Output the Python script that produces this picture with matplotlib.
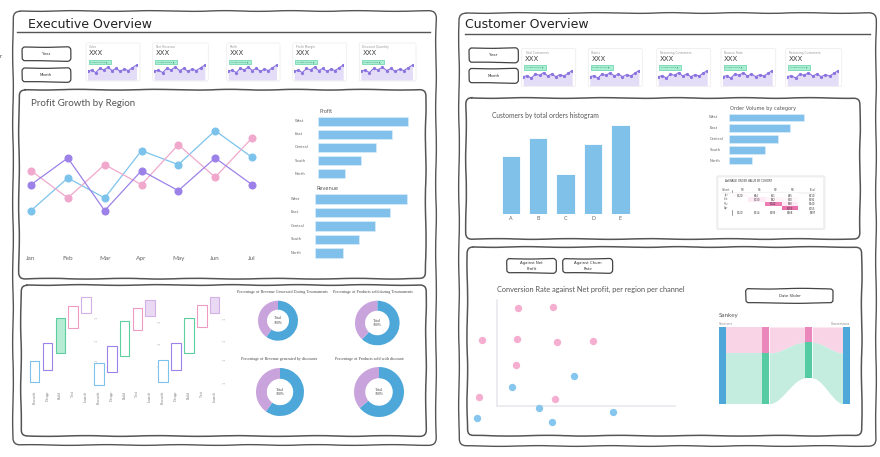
import numpy as np
import matplotlib.pyplot as plt
from matplotlib.patches import FancyBboxPatch, Rectangle
from matplotlib.colors import LinearSegmentedColormap

W, H = 880, 457

# ---------------- data ----------------
months = ['Jan', 'Feb', 'Mar', 'Apr', 'May', 'Jun', 'Jul']
growth_pink = [15.2, 7.0, 17.0, 11.0, 23.0, 13.2, 25.0]
growth_purple = [11.0, 19.0, 3.2, 15.2, 9.2, 19.0, 11.0]
growth_blue = [3.2, 13.0, 7.0, 21.2, 17.0, 27.2, 19.2]

regions = ['West', 'East', 'Central', 'South', 'North']
profit = [90, 74, 58, 43, 27]
revenue = [92, 75, 60, 44, 28]
order_volume = [75, 61, 49, 36, 23]

spark = [10, 13, 6, 18, 14, 22, 12, 18, 10, 16, 12, 20, 28]
exec_kpis = ['Sales', 'Net Revenue', 'Profit', 'Profit Margin', 'Discount Quantity']
cust_kpis = ['Total Customers', 'Orders', 'Returning Customers', 'Bounce Rate', 'Returning Customers']

phases = ['Research', 'Design', 'Build', 'Test', 'Launch'] * 3
phase_low = [18, 30, 47, 72, 87, 15, 28, 44, 70, 84, 18, 30, 47, 73, 87]
phase_high = [39, 57, 82, 94, 103, 37, 54, 79, 92, 100, 40, 57, 82, 95, 103]
phase_filled = [False, False, True, False, False,
                False, False, False, False, True,
                False, False, False, False, True]

donut_titles = ['Percentage of Revenue Generated During Tournaments',
                'Percentage of Products sold during Tournaments',
                'Percentage of Revenue generated by discounts',
                'Percentage of Products sold with discount']
donut_share = [60, 62, 60, 64]

hist_bins = ['A', 'B', 'C', 'D', 'E']
hist_counts = [58, 76, 40, 70, 89]

cohort_cols = ['Cohort', 'M0', 'M1', 'M2', 'M3', 'Total']
cohort_rows = ['Jan', 'Feb', 'Mar', 'Apr']
cohort_shade = [[0.08, 0, 0, 0],
                [0, 0.30, 0.15, 0.12],
                [0, 0, 0.85, 0.30],
                [0, 0, 0, 0.90]]
cohort_vals = [[120, 84, 61, 45], [0, 130, 92, 70], [0, 0, 142, 98], [0, 0, 0, 155]]

pink_x = [12.1, 31.7, -8.1, 11.6, 34.0, 53.8, 10.7, -9.8, 32.5]
pink_y = [92.5, 93.4, 62.6, 63.8, 60.4, 61.3, 38.7, 8.5, 6.6]
blue_x = [43.5, 8.7, 23.9, -10.9, 30.8, 65.4]
blue_y = [28.3, 18.5, -1.9, -11.3, -14.5, -5.1]

sankey_mid1 = [34, 66]
sankey_mid2 = [20, 46.5]
sankey_end = [34, 66]

# ---------------- colours ----------------
PINK = '#f0a8cc'
PURPLE = '#9c82e8'
BLUE = '#7cc3ec'
BAR = '#80c0ea'
GREEN = '#5ccf9f'
LILAC = '#d3b0e6'
DBLUE = '#4ea7d9'
DLILAC = '#c9a3dc'

fig = plt.figure(figsize=(W / 100, H / 100), dpi=100)
bg = fig.add_axes([0, 0, 1, 1])
bg.set_xlim(0, W)
bg.set_ylim(H, 0)
bg.axis('off')


def box_axes(x0, y0, x1, y1):
    ax = fig.add_axes([x0 / W, 1 - y1 / H, (x1 - x0) / W, (y1 - y0) / H])
    ax.patch.set_alpha(0)
    return ax


def frame(x0, y0, x1, y1, ec='#555555', lw=1.0, r=5, fc='none', sketch=True, z=1):
    p = FancyBboxPatch((x0, y0), x1 - x0, y1 - y0,
                       boxstyle='round,pad=0,rounding_size=%g' % r,
                       ec=ec, fc=fc, lw=lw, zorder=z)
    if sketch:
        p.set_sketch_params(scale=0.35, length=90, randomness=3)
    bg.add_patch(p)


def button(x0, y0, x1, y1, label):
    frame(x0, y0, x1, y1, ec='#444444', lw=0.9, r=3)
    bg.text((x0 + x1) / 2, (y0 + y1) / 2, label, fontsize=2.8, ha='center',
            va='center', color='#333333', linespacing=1.6)


def kpi_card(x0, y0, x1, y1, title):
    frame(x0, y0, x1, y1, ec='#eeeeee', lw=0.6, r=1.5, fc='white', sketch=False)
    bg.text(x0 + 3, y0 + 4.4, title, fontsize=2.2, color='#999999', va='center')
    bg.text(x0 + 3, y0 + 10.2, 'XXX', fontsize=5, color='#444444', va='center')
    bg.add_patch(Rectangle((x0 + 2.5, y0 + 16.5), 22, 4.6, fc='#aaeed3',
                           ec='#62d2a8', lw=0.5))
    bg.text(x0 + 4, y0 + 18.8, 'vs last period ▲', fontsize=1.6, color='#2f8f6a',
            va='center')
    ax = box_axes(x0 + 1.5, y0 + 18.7, x1 - 3.5, y1 - 1)
    xs = np.arange(len(spark))
    ax.fill_between(xs, spark, -16, color='#e4ddf7', lw=0)
    ax.plot(xs, spark, color='#8b73e0', lw=0.8, marker='o', ms=1.3)
    ax.set_xlim(0, len(spark) - 1)
    ax.set_ylim(-16, 38)
    ax.axis('off')


# ---------------- outer frames ----------------
frame(13, 11, 436, 445, ec='#555555', lw=1.0, r=7)
frame(459, 13, 876, 446, ec='#555555', lw=1.0, r=7)
bg.text(28, 25, 'Executive Overview', fontsize=9, color='#222222', va='center')
bg.text(465, 25, 'Customer Overview', fontsize=9, color='#222222', va='center')
bg.plot([17, 430], [32.3, 32.3], color='#555555', lw=1.0)
bg.plot([465, 870], [34, 34], color='#555555', lw=1.0)
bg.text(0, 57, 'r', fontsize=3.5, color='#333333', va='center')

# ---------------- header filters + KPI cards ----------------
button(22, 47, 70.5, 61, 'Year')
button(22, 68, 70.5, 82, 'Month')
button(469, 48, 518, 62.5, 'Year')
button(469, 68.5, 518, 83, 'Month')

for x0, x1, t in zip([86, 152.7, 226.7, 292.7, 359.3],
                     [140, 208.3, 280, 346.7, 416], exec_kpis):
    kpi_card(x0, 43, x1, 81, t)
for x0, x1, t in zip([521.7, 588.3, 656.7, 721, 785.7],
                     [575.7, 642.3, 710.7, 775.7, 841.7], cust_kpis):
    kpi_card(x0, 48.5, x1, 86.5, t)

# ---------------- Profit growth panel ----------------
frame(19, 89.7, 425.7, 278.7, ec='#555555', lw=1.1, r=6)
bg.text(31, 104, 'Profit Growth by Region', fontsize=7, family='Lato',
        color='#555555', va='center')

lx = box_axes(25, 121.3, 258, 252)
xs = np.arange(len(months))
for ys, c in [(growth_blue, BLUE), (growth_pink, PINK), (growth_purple, PURPLE)]:
    lx.plot(xs, ys, color=c, lw=0.9, marker='o', ms=4.8, mec=c, clip_on=False)
lx.set_xlim(-0.163, 6.163)
lx.set_ylim(-9.2, 30)
lx.set_xticks(xs)
lx.set_xticklabels(months, fontsize=4.6, color='#666666', family='Lato')
lx.set_yticks([])
lx.tick_params(axis='x', length=0, pad=3)
for s in lx.spines.values():
    s.set_visible(False)


def hbars(box, vals, title, label_x, title_y):
    ax = box_axes(*box)
    ax.barh(range(len(vals)), vals, height=0.68, color=BAR, ec='#d8ecf9', lw=0.5)
    ax.set_xlim(0, box[2] - box[0])
    ax.set_ylim(len(vals) - 0.5, -0.5)
    for i, r in enumerate(regions):
        ax.text(label_x, i, r, fontsize=2.7, color='#666666', va='center',
                clip_on=False)
    ax.text(1, title_y, title, fontsize=3.6, color='#555555', va='center',
            clip_on=False)
    ax.axis('off')
    return ax


hbars((318, 114.4, 410, 180.6), profit, 'Profit', -23, -0.75)
hbars((315, 192.2, 410, 259.7), revenue, 'Revenue', -24, -0.74)

# ---------------- phases + donuts panel ----------------
frame(21, 285, 426, 436, ec='#555555', lw=1.1, r=6)

fx = box_axes(28, 290, 222, 388)
px_ = np.arange(len(phases))
cols = [BLUE, PURPLE, GREEN, '#f09ac4', LILAC] * 3
fills = {BLUE: '#cfe9f8', PURPLE: '#ddd5f7', GREEN: '#b5ecd3',
         '#f09ac4': '#fbdcea', LILAC: '#ead9f3'}
for i in px_:
    fc = fills[cols[i]] if phase_filled[i] else 'white'
    fx.bar(i, phase_high[i] - phase_low[i], bottom=phase_low[i], width=0.75,
           fc=fc, ec=cols[i], lw=0.8)
fx.set_xlim(-0.52, 14.58)
fx.set_ylim(12, 110)
fx.set_xticks(px_)
fx.set_xticklabels(phases, rotation=90, fontsize=2.6, color='#777777',
                   family='Liberation Serif')
fx.tick_params(axis='x', length=0, pad=2)
fx.set_yticks([])
for s in fx.spines.values():
    s.set_visible(False)
for x, ys in [(97, [318, 341, 361]), (160, [322, 344, 366]),
              (225, [319, 341, 360, 383])]:
    for y in ys:
        bg.text(x, y, '1', fontsize=2.4, color='#aaaaaa', ha='center',
                va='center', rotation=90)

donut_pos = [(278, 320.7, 20), (377.3, 323, 22.3), (280, 392, 24), (379, 392, 25)]
title_pos = [(282, 292), (373, 292), (279, 359), (369, 359)]
for (cx, cy, r), (tx, ty), t, share in zip(donut_pos, title_pos, donut_titles,
                                           donut_share):
    bg.text(tx, ty, t, fontsize=3.0, color='#444444', ha='center', va='center',
            family='Liberation Serif')
    ax = box_axes(cx - r, cy - r, cx + r, cy + r)
    ax.pie([share, 100 - share], colors=[DBLUE, DLILAC], startangle=90,
           counterclock=False, radius=1, wedgeprops=dict(width=0.45, lw=0))
    ax.text(0, 0, 'Total\n100%', fontsize=2.8, ha='center', va='center',
            color='#444444', family='Liberation Serif')
    ax.set_xlim(-1, 1)
    ax.set_ylim(-1, 1)
    ax.set_aspect('equal')

# ---------------- histogram panel ----------------
frame(466, 98, 860, 239, ec='#555555', lw=1.1, r=6)
bg.text(491.7, 115.7, 'Customers by total orders histogram', fontsize=4.8,
        family='Lato', color='#555555', va='center')
hx = box_axes(497, 110, 634, 213.7)
hx.bar(range(len(hist_bins)), hist_counts, width=0.67, color='#80c1ea',
       ec='white', lw=0.6)
hx.set_xlim(-0.504, 4.496)
hx.set_ylim(0, 103.7)
hx.set_xticks(range(len(hist_bins)))
hx.set_xticklabels(hist_bins, fontsize=3.8, color='#666666', family='Lato')
hx.tick_params(axis='x', length=0, pad=1.8)
hx.set_yticks([])
for s in hx.spines.values():
    s.set_visible(False)

hbars((728.7, 111.9, 806, 166.1), order_volume, 'Order Volume by category', -19.4, -0.8)

# cohort table
frame(717.3, 176.3, 824.3, 229, ec='#eeeeee', lw=1.6, r=1, fc='white', sketch=False)
bg.text(725, 181.3, 'AVERAGE ORDER VALUE BY COHORT', fontsize=1.9, color='#333333',
        va='center')
tx = box_axes(731.7, 192.8, 798.3, 210.5)
cmap = LinearSegmentedColormap.from_list('pk', ['#ffffff', '#fbdcec', '#e4559b'])
tx.pcolormesh(np.array(cohort_shade), cmap=cmap, vmin=0, vmax=1)
tx.set_xlim(0, 4)
tx.set_ylim(4, 0)
tx.axis('off')
for r in range(4):
    tx.text(-0.35, r + 0.5, cohort_rows[r], fontsize=1.8, color='#777777',
            ha='center', va='center', clip_on=False)
    for c in range(4):
        if c >= r:
            tx.text(c + 0.5, r + 0.5, '$%d' % cohort_vals[r][c], fontsize=1.8,
                    color='#333333', ha='center', va='center')
    tx.text(4.85, r + 0.5, '$%d' % sum(cohort_vals[r]), fontsize=1.8,
            color='#333333', ha='center', va='center', clip_on=False)
for c, lab in enumerate(cohort_cols):
    tx.text(c - 0.35 if c < 5 else 4.85, -0.7, lab, fontsize=1.8, color='#555555',
            ha='center', va='center', clip_on=False)
for c in range(5):
    tot = sum(cohort_vals[r][c] for r in range(4)) if c < 4 else \
        sum(map(sum, cohort_vals))
    tx.text(c + 0.5 if c < 4 else 4.85, 4.5, '$%d' % tot, fontsize=1.8,
            color='#333333', ha='center', va='center', clip_on=False)
bg.plot([731.7, 731.7], [190, 214.5], color='#555555', lw=0.4)
bg.plot([722, 816], [192.5, 192.5], color='#cccccc', lw=0.3)

# ---------------- conversion / sankey panel ----------------
frame(467.3, 247, 861.7, 435.7, ec='#555555', lw=1.1, r=6)
button(506.7, 258.7, 556, 273, 'Against Net\nProfit')
button(562.7, 258.7, 612.3, 273, 'Against Churn\nRate')
button(745.7, 288.7, 833.3, 303, 'Date Slider')
bg.text(496.7, 289.7, 'Conversion Rate against Net profit, per region per channel',
        fontsize=5.3, family='Lato', color='#555555', va='center')

sx = box_axes(496.7, 300.3, 675, 406.3)
sx.scatter(pink_x, pink_y, s=28, color='#f5aed0', lw=0, clip_on=False, zorder=3)
sx.scatter(blue_x, blue_y, s=28, color='#86c6ee', lw=0, clip_on=False, zorder=3)
sx.set_xlim(0, 100)
sx.set_ylim(0, 100)
sx.set_xticks([])
sx.set_yticks([])
for k in ['top', 'right']:
    sx.spines[k].set_visible(False)
for k in ['left', 'bottom']:
    sx.spines[k].set_color('#e8e8ee')
    sx.spines[k].set_linewidth(1.2)

bg.text(719, 315.7, 'Sankey', fontsize=4.5, family='Lato', color='#555555',
        va='center')
bg.text(719, 323.7, 'Sessions', fontsize=2.3, color='#888888', va='center')
bg.text(850.7, 323.7, 'Conversions', fontsize=2.3, color='#888888', va='center',
        ha='right')

kx = box_axes(719, 327, 850, 403.7)
kx.set_xlim(0, 131)
kx.set_ylim(100, 0)
kx.axis('off')
FPINK, FGREEN = '#f9d3e6', '#c4eddf'
NPINK, NGREEN = '#ea88bb', '#55cba4'


def link(xa, xb, top_a, top_b, bot_a, bot_b, color):
    t = np.linspace(0, 1, 60)
    s = 3 * t ** 2 - 2 * t ** 3
    x = xa + (xb - xa) * t
    kx.fill_between(x, top_a + (top_b - top_a) * s, bot_a + (bot_b - bot_a) * s,
                    color=color, lw=0)


n_l, n_m1, n_m2, n_r = (0, 7), (42.7, 50.3), (86, 93.3), (124.3, 131)
p1, g1 = sankey_mid1
p2, g2 = sankey_mid2
p3, g3 = sankey_end
link(n_l[1], n_m1[0], 0, 0, p1, p1, FPINK)
link(n_l[1], n_m1[0], p1, p1, p1 + g1, p1 + g1, FGREEN)
link(n_m1[1], n_m2[0], 0, 0, p1, p2, FPINK)
link(n_m1[1], n_m2[0], p1, p2, p1 + g1, p2 + g2, FGREEN)
link(n_m2[1], n_r[0], 0, 0, p2, p3, FPINK)
link(n_m2[1], n_r[0], p2, p3, p2 + g2, p3 + g3, FGREEN)
kx.bar((n_l[0] + n_l[1]) / 2, p1 + g1, bottom=0, width=n_l[1] - n_l[0],
       color=DBLUE, lw=0)
kx.bar((n_r[0] + n_r[1]) / 2, p3 + g3, bottom=0, width=n_r[1] - n_r[0],
       color=DBLUE, lw=0)
for (a, b), pv, gv in [(n_m1, p1, g1), (n_m2, p2, g2)]:
    kx.bar((a + b) / 2, pv, bottom=0, width=b - a, color=NPINK, lw=0)
    kx.bar((a + b) / 2, gv, bottom=pv, width=b - a, color=NGREEN, lw=0)

fig.savefig('out.png', dpi=100)
